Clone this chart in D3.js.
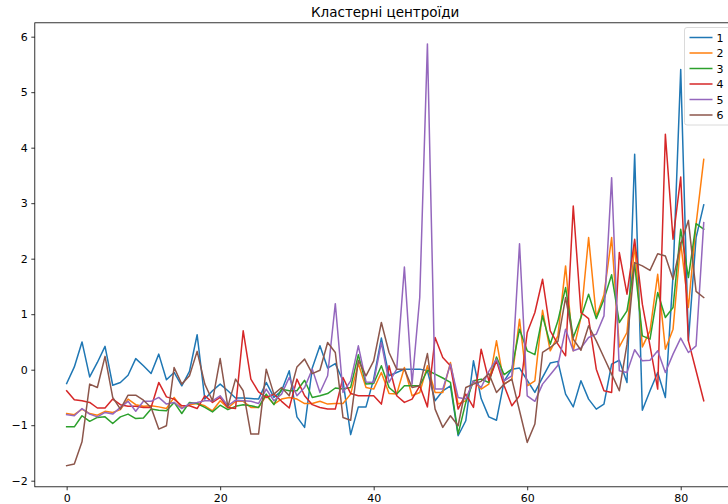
<!DOCTYPE html>
<html>
<head>
<meta charset="utf-8">
<script src="https://cdn.jsdelivr.net/npm/d3@7"></script>
<style>
  body { margin: 0; background: #fff; }
  svg { display: block; font-family: "DejaVu Sans", sans-serif; }
</style>
</head>
<body>
<svg id="chart" width="728" height="504"></svg>
<script>
// Cluster centroid profiles, one array per cluster (84 features each)
const seriesNames = ["1", "2", "3", "4", "5", "6"];
const seriesColors = ["#1f77b4", "#ff7f0e", "#2ca02c", "#d62728", "#9467bd", "#8c564b"];

const cluster1 = [-0.25, 0.05, 0.5, -0.13, 0.13, 0.42, -0.28, -0.23, -0.1, 0.2, 0.07, -0.07,
  0.28, -0.18, -0.05, -0.29, -0.03, 0.63, -0.53, -0.38, -0.26, -0.38, -0.51, -0.51, -0.52, -0.53,
  -0.23, -0.5, -0.38, -0.02, -0.85, -1.04, 0.03, 0.43, 0.03, 0.11, -0.2, -1.17, -0.67, -0.67,
  -0.17, 0.57, -0.11, -0.05, 0.01, 0.01, 0.01, -0.02, -0.56, -0.38, -0.29, -1.19, -0.92, 0.16, -0.52,
  -0.85, -0.91, -0.2, 0.01, 0.03, -0.19, -0.41, -0.14, 0.12, 0.15, -0.44, -0.67, -0.2, -0.53,
  -0.71, -0.62, 0.1, 0.17, -0.23, 3.88, -0.73, -0.38, -0.05, -0.5, 1.7, 5.41, 0.52, 2.38, 2.97];

const cluster2 = [-0.79, -0.81, -0.71, -0.79, -0.82, -0.75, -0.77, -0.72, -0.53, -0.63, -0.66, -0.65,
  -0.67, -0.7, -0.5, -0.69, -0.63, -0.61, -0.65, -0.74, -0.56, -0.69, -0.57, -0.57, -0.68, -0.68,
  -0.47, -0.62, -0.53, -0.5, -0.53, -0.61, -0.61, -0.57, -0.62, -0.61, -0.61, -0.44, 0.11, -0.32,
  -0.35, -0.05, -0.43, -0.44, 0.04, -0.47, -0.41, 0.07, -0.41, -0.41, 0.13, -0.62, -0.56, -0.2, -0.35,
  -0.26, 0.52, -0.26, -0.17, 0.91, -0.29, -0.2, 1.07, 0.34, 0.61, 1.87, 0.34, 0.94, 2.38,
  0.95, 1.35, 2.38, 0.41, 0.67, 2.26, 0.41, 0.7, 1.72, 0.37, 0.73, 2.29, 1.12, 2.62, 3.79];

const cluster3 = [-1.03, -1.03, -0.83, -0.93, -0.86, -0.85, -0.97, -0.85, -0.8, -0.88, -0.87, -0.71,
  -0.73, -0.74, -0.59, -0.79, -0.59, -0.61, -0.68, -0.76, -0.64, -0.72, -0.66, -0.63, -0.65, -0.68,
  -0.44, -0.63, -0.35, -0.38, -0.38, -0.19, -0.5, -0.47, -0.43, -0.33, -0.35, -0.32, 0.27, -0.26,
  -0.25, 0.07, -0.32, -0.44, -0.29, -0.29, -0.29, -0.01, -0.08, -0.15, -0.23, -1.16, -0.59, -0.2, -0.17,
  -0.23, 0.23, -0.09, 0.01, 0.73, 0.34, 0.27, 0.97, 0.46, 0.88, 1.48, 0.58, 0.94, 1.36,
  0.92, 1.27, 1.71, 0.85, 1.06, 1.9, 0.61, 0.55, 1.39, 0.94, 1.12, 2.53, 1.66, 2.63, 2.53];

const cluster4 = [-0.38, -0.54, -0.56, -0.59, -0.69, -0.69, -0.53, -0.63, -0.66, -0.66, -0.68, -0.68,
  -0.23, -0.49, -0.53, -0.65, -0.65, -0.7, -0.47, -0.59, -0.5, -0.68, -0.7, 0.7, -0.17, -0.4,
  -0.5, -0.44, -0.57, -0.69, -0.17, -0.47, -0.63, -0.68, -0.71, -0.71, -0.14, -0.43, -0.47, -0.47,
  -0.47, -0.62, 0.07, -0.47, -0.59, -0.53, -0.29, -0.67, 0.58, 0.22, 0.07, -0.71, -0.44, -0.68, 0.37,
  -0.2, 0.16, -0.29, -0.65, -0.47, 0.67, 1.03, 1.63, 0.7, 0.46, 0.25, 2.95, 1.03, 0.92,
  0.01, -0.38, -0.41, 2.11, 1.36, 2.35, 1.18, 0.43, -0.35, 4.24, 2.35, 3.47, 0.52, -0.02, -0.56];

const cluster5 = [-0.81, -0.83, -0.7, -0.8, -0.85, -0.77, -0.8, -0.68, -0.57, -0.75, -0.57, -0.57,
  -0.5, -0.62, -0.59, -0.7, -0.61, -0.59, -0.56, -0.56, -0.47, -0.65, -0.55, -0.56, -0.57, -0.61,
  -0.35, -0.56, -0.44, -0.14, -0.47, -0.32, 0.01, -0.41, -0.11, 1.19, -0.41, -0.2, 0.43, -0.22,
  -0.23, 0.49, -0.23, 0.01, 1.85, -0.26, 1.3, 5.87, -0.35, -0.35, 0.1, -0.5, -0.53, -0.2, -0.32,
  -0.03, 0.19, -0.2, -0.11, 2.27, -0.47, -0.57, -0.26, -0.09, 0.08, 0.73, 0.34, 0.39, 0.58,
  0.64, 0.97, 3.46, -0.02, -0.05, 0.36, 0.16, 0.17, 0.34, -0.05, 0.28, 0.57, 0.31, 0.43, 2.65];

const cluster6 = [-1.73, -1.7, -1.3, -0.26, -0.32, 0.24, -0.5, -0.71, -0.46, -0.46, -0.55, -0.68,
  -1.07, -1.01, 0.04, -0.26, -0.11, 0.33, -0.26, -0.56, 0.2, -0.67, -0.17, -0.38, -1.16, -1.16,
  0.01, -0.44, -0.32, -0.47, 0.05, 0.19, -0.07, -0.01, 0.49, 0.31, -0.86, -0.91, 0.17, -0.11,
  0.16, 0.85, 0.31, 0.01, 0.01, -0.32, -0.29, 0.29, -0.71, -1.04, -0.83, -1.01, -0.32, -0.26, -0.21,
  -0.07, -0.41, -0.26, -0.17, -0.74, -1.31, -0.98, 0.31, 0.4, 0.51, 1.3, 0.55, 0.35, 0.79,
  0.52, 0.22, -0.08, -0.38, 0.46, 1.93, 1.87, 1.79, 2.09, 2.05, 1.63, 2.26, 2.69, 1.41, 1.3];

const xTicks = [0, 20, 40, 60, 80];
const yTicks = [-2, -1, 0, 1, 2, 3, 4, 5, 6];
const titleText = "Кластерні центроїди";

const clusters = [cluster1, cluster2, cluster3, cluster4, cluster5, cluster6];
const series = clusters.map((vals, k) => ({
  name: seriesNames[k],
  color: seriesColors[k],
  values: vals.map((v, i) => ({ i, v }))
}));

const svg = d3.select("#chart");

// Axes box (right edge falls past the canvas)
const plot = { left: 34.8, right: 735.6, top: 22.8, bottom: 486.8 };

// Domains padded by 5% on each side
const nPts = cluster1.length;
const xMin = 0, xMax = nPts - 1;
const xPad = (xMax - xMin) * 0.05;
const allVals = clusters.flat();
const yMin = d3.min(allVals), yMax = d3.max(allVals);
const yPad = (yMax - yMin) * 0.05;

const x = d3.scaleLinear().domain([xMin - xPad, xMax + xPad]).range([plot.left, plot.right]);
const y = d3.scaleLinear().domain([yMin - yPad, yMax + yPad]).range([plot.bottom, plot.top]);

// Lines
const line = d3.line().x(d => x(d.i)).y(d => y(d.v));
const gLines = svg.append("g");
series.forEach(s => {
  gLines.append("path")
    .datum(s.values)
    .attr("fill", "none")
    .attr("stroke", s.color)
    .attr("stroke-width", 1.5)
    .attr("stroke-linejoin", "round")
    .attr("stroke-linecap", "square")
    .attr("d", line);
});

// Frame
svg.append("rect")
  .attr("x", plot.left).attr("y", plot.top)
  .attr("width", plot.right - plot.left).attr("height", plot.bottom - plot.top)
  .attr("fill", "none").attr("stroke", "#000").attr("stroke-width", 0.8);

// Axes
const xAxis = d3.axisBottom(x).tickValues(xTicks).tickSize(3.5).tickPadding(3.5).tickFormat(d3.format("d"));
const yAxis = d3.axisLeft(y).tickValues(yTicks).tickSize(3.5).tickPadding(3.5)
  .tickFormat(d => d < 0 ? "\u2212" + Math.abs(d) : String(d));

const gx = svg.append("g").attr("transform", `translate(0,${plot.bottom})`).call(xAxis);
const gy = svg.append("g").attr("transform", `translate(${plot.left},0)`).call(yAxis);
[gx, gy].forEach(g => {
  g.select(".domain").remove();
  g.selectAll(".tick line").attr("stroke", "#000").attr("stroke-width", 0.8);
  g.selectAll(".tick text").attr("fill", "#000")
    .style("font-family", "DejaVu Sans").style("font-size", "11px");
});

// Title
svg.append("text")
  .attr("x", (plot.left + plot.right) / 2 - 0).attr("y", 17)
  .attr("text-anchor", "middle")
  .style("font-size", "13.5px").attr("fill", "#000")
  .text(titleText);

// Legend
const legend = svg.append("g").attr("transform", "translate(684.5,27.5)");
legend.append("rect")
  .attr("x", 0).attr("y", 0).attr("width", 46).attr("height", 97.5)
  .attr("rx", 2.5).attr("ry", 2.5)
  .attr("fill", "#fff").attr("fill-opacity", 0.8)
  .attr("stroke", "#d0d0d0").attr("stroke-width", 0.8);
series.forEach((s, k) => {
  const ly = 10 + k * 15.5;
  legend.append("line")
    .attr("x1", 5).attr("x2", 28).attr("y1", ly).attr("y2", ly)
    .attr("stroke", s.color).attr("stroke-width", 1.5);
  legend.append("text")
    .attr("x", 32).attr("y", ly + 4)
    .style("font-size", "11px").attr("fill", "#000")
    .text(s.name);
});
</script>
</body>
</html>
